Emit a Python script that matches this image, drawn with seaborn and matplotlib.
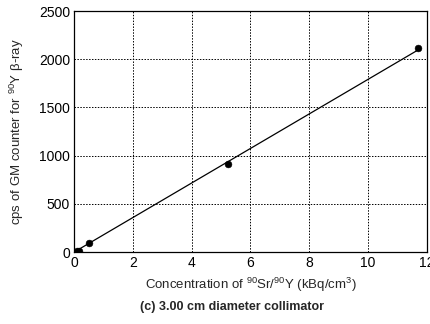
import numpy as np
import pandas as pd
import matplotlib
matplotlib.use("Agg")
import matplotlib.pyplot as plt
import seaborn as sns

# === Data ===
conc = [0.10, 0.15, 0.52, 5.25, 11.70]
cps = [15, 10, 90, 915, 2120]
fit_x = [0.0, 11.7]
fit_y = [0.0, 2095.0]
x_ticks = [0, 2, 4, 6, 8, 10, 12]
y_ticks = [0, 500, 1000, 1500, 2000, 2500]

df = pd.DataFrame({"conc": conc, "cps": cps})
fit = pd.DataFrame({"x": fit_x, "y": fit_y})

sns.set_theme(style="white")
plt.rcParams["font.family"] = ["Liberation Sans", "DejaVu Sans"]
plt.rcParams["mathtext.fontset"] = "custom"
plt.rcParams["mathtext.rm"] = "Liberation Sans"
plt.rcParams["mathtext.it"] = "Liberation Sans:italic"

fig = plt.figure(figsize=(4.31, 3.24), dpi=100)
ax = fig.add_axes([0.172, 0.222, 0.818, 0.744])

sns.lineplot(data=fit, x="x", y="y", color="black", linewidth=0.9, ax=ax)
sns.scatterplot(data=df, x="conc", y="cps", color="black", s=24, edgecolor="black", zorder=3, ax=ax)

ax.set_xlim(0, 12)
ax.set_ylim(0, 2500)
ax.set_xticks(x_ticks)
ax.set_yticks(y_ticks)
ax.tick_params(labelsize=10, length=0, pad=3, colors="black")
ax.grid(True, color="black", linestyle=(0, (1.5, 1.5)), linewidth=0.7)
for s in ax.spines.values():
    s.set_color("black")
    s.set_linewidth(0.9)

ax.set_xlabel(r"Concentration of $\mathrm{^{90}}$Sr/$\mathrm{^{90}}$Y (kBq/cm$\mathrm{^{3}}$)",
              fontsize=9.5, labelpad=4)
ax.set_ylabel(r"cps of GM counter for $\mathrm{^{90}}$Y β-ray", fontsize=9.5, labelpad=9)

fig.text(0.538, 0.052, "(c) 3.00 cm diameter collimator", ha="center", va="center",
         fontsize=9, fontweight="bold")

fig.savefig("out.png", dpi=100)
